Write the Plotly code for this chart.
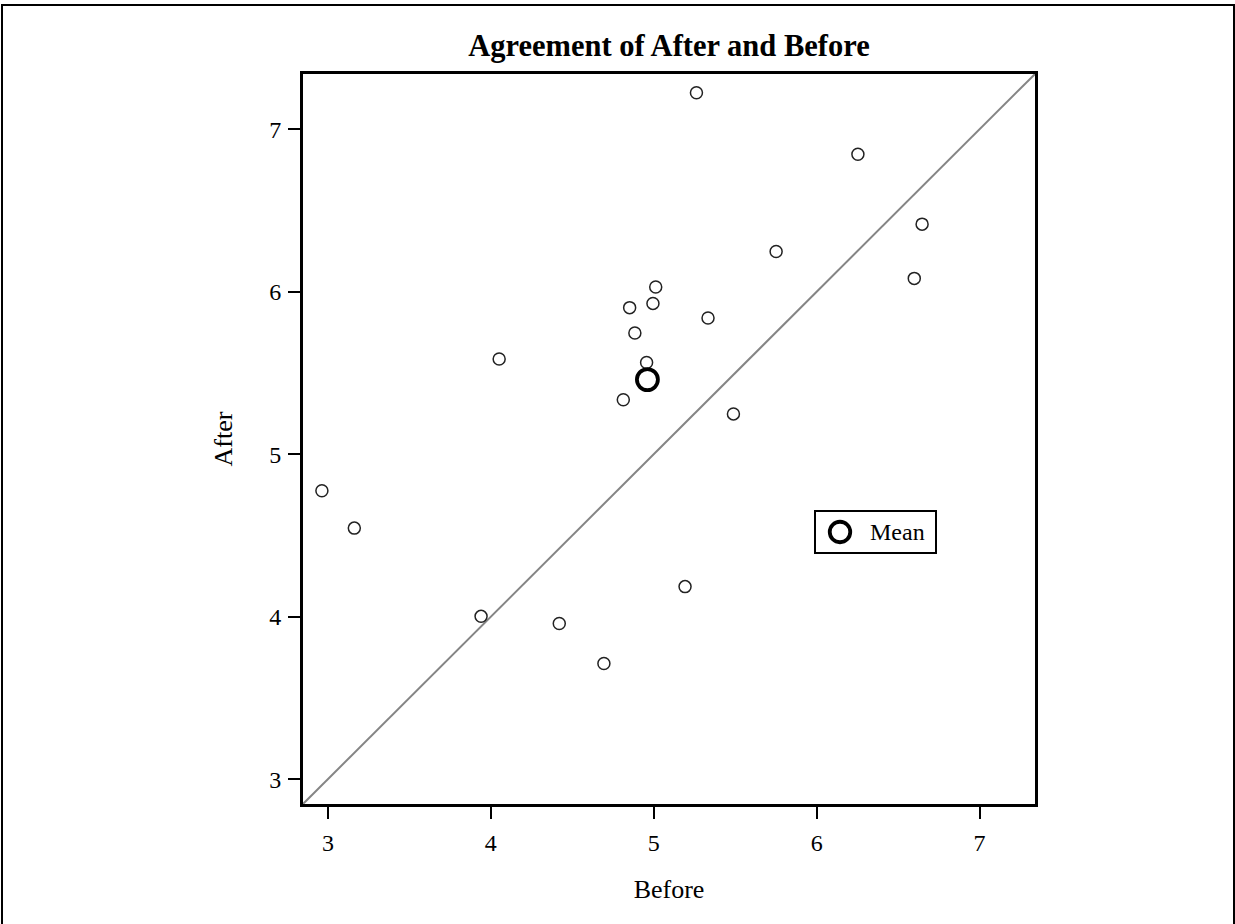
import plotly.graph_objects as go

# Data
before = [5.262, 6.253, 6.647, 5.751, 6.599, 5.012, 4.852, 4.995, 4.884, 5.333,
          4.051, 4.956, 4.813, 5.489, 2.963, 3.162, 5.192, 3.940, 4.420, 4.694]
after = [7.225, 6.846, 6.416, 6.248, 6.082, 6.029, 5.902, 5.928, 5.746, 5.838,
         5.586, 5.564, 5.335, 5.248, 4.775, 4.545, 4.185, 4.002, 3.958, 3.712]
mean_before = [4.961]
mean_after = [5.459]
axis_range = [2.847, 7.34]
tick_vals = [3, 4, 5, 6, 7]
tick_text = ["3", "4", "5", "6", "7"]

FONT = "Liberation Serif"
W, H = 1235, 924
L, R, T, B = 303, 200, 74, 120
PW, PH = W - L - R, H - T - B


def px(x):
    return (x - L) / PW


def py(y):
    return (H - B - y) / PH


fig = go.Figure()

# identity line
fig.add_trace(go.Scatter(x=axis_range, y=axis_range, mode="lines",
                         line=dict(color="#858585", width=2),
                         hoverinfo="skip", showlegend=False, cliponaxis=True))

fig.add_trace(go.Scatter(x=before, y=after, mode="markers",
                         marker=dict(symbol="circle-open", size=12, color="#222222",
                                     line=dict(width=1.5, color="#222222")),
                         showlegend=False))

fig.add_trace(go.Scatter(x=mean_before, y=mean_after, mode="markers",
                         marker=dict(symbol="circle", size=21, color="rgba(255,255,255,0)",
                                     line=dict(width=3.8, color="#000000")),
                         name="Mean", showlegend=False))

axis_common = dict(range=axis_range, tickvals=tick_vals, ticktext=tick_text,
                   showgrid=False, zeroline=False, showline=True, mirror=True,
                   linecolor="black", linewidth=2.8, ticks="outside", ticklen=12,
                   tickwidth=2, tickcolor="black",
                   tickfont=dict(family=FONT, size=24, color="black"))

fig.update_xaxes(**axis_common, ticklabelstandoff=3,
                 title=dict(text="Before", font=dict(family=FONT, size=26, color="black"),
                            standoff=26))
fig.update_yaxes(**axis_common, ticklabelstandoff=2,
                 title=dict(text="After", font=dict(family=FONT, size=26, color="black"),
                            standoff=30))

shapes = [
    # outer frame
    dict(type="rect", xref="paper", yref="paper",
         x0=px(2), x1=px(1234), y0=py(935), y1=py(5),
         line=dict(color="black", width=2), fillcolor="rgba(0,0,0,0)"),
    # legend box
    dict(type="rect", xref="paper", yref="paper",
         x0=px(815), x1=px(936), y0=py(553), y1=py(511),
         line=dict(color="black", width=2), fillcolor="white"),
    # legend marker
    dict(type="circle", xref="paper", yref="paper",
         x0=px(840 - 10.25), x1=px(840 + 10.25), y0=py(532 + 10.25), y1=py(532 - 10.25),
         line=dict(color="black", width=3.8), fillcolor="rgba(0,0,0,0)"),
]

annotations = [
    dict(text="Mean", xref="paper", yref="paper", x=px(868), y=py(532),
         xanchor="left", yanchor="middle", showarrow=False,
         font=dict(family=FONT, size=24, color="black")),
]

fig.update_layout(
    width=W, height=H,
    margin=dict(l=L, r=R, t=T, b=B, pad=0),
    paper_bgcolor="white", plot_bgcolor="white",
    title=dict(text="<b>Agreement of After and Before</b>", x=px(669), xanchor="center",
               xref="paper", y=1 - 45 / H, yanchor="middle",
               font=dict(family=FONT, size=30.5, color="black")),
    shapes=shapes, annotations=annotations,
    showlegend=False,
)

fig.write_html("out.html")
